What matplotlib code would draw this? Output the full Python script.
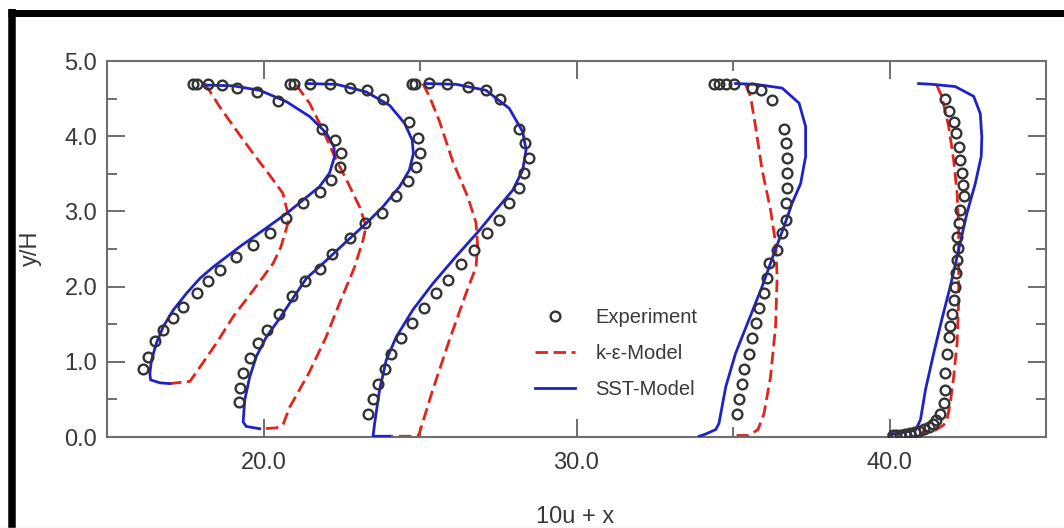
import matplotlib
matplotlib.use("Agg")
import matplotlib.pyplot as plt
from matplotlib.lines import Line2D

plt.rcParams["font.family"] = ["Liberation Sans", "DejaVu Sans"]

# ---- profile 1 ----
exp1_x = [17.75, 17.88, 18.23, 18.66, 19.16, 19.80, 20.47, 21.88, 22.27, 22.49, 22.43, 22.17, 21.79, 21.26,
          20.71, 20.20, 19.67, 19.13, 18.60, 18.23, 17.86, 17.43, 17.11, 16.80, 16.53, 16.32, 16.16]
exp1_y = [4.69, 4.69, 4.69, 4.68, 4.64, 4.59, 4.47, 4.10, 3.95, 3.77, 3.59, 3.42, 3.26, 3.11,
          2.91, 2.71, 2.55, 2.40, 2.22, 2.07, 1.91, 1.73, 1.58, 1.42, 1.27, 1.07, 0.91]
sst1_x = [18.13, 19.03, 19.88, 20.73, 21.48, 22.01, 22.25, 22.27, 22.11, 21.79, 21.26, 20.73, 19.99, 19.24,
          18.39, 17.97, 17.54, 17.12, 16.80, 16.58, 16.42, 16.37, 16.39, 16.69, 17.01]
sst1_y = [4.68, 4.67, 4.61, 4.46, 4.26, 4.04, 3.86, 3.73, 3.51, 3.33, 3.15, 2.97, 2.75, 2.53,
          2.26, 2.11, 1.91, 1.69, 1.47, 1.25, 1.02, 0.85, 0.76, 0.72, 0.71]
ke1_x = [18.13, 18.60, 19.13, 19.67, 20.20, 20.62, 20.78, 20.78, 20.55, 20.31, 19.67, 19.03, 18.50, 17.97,
         17.65, 17.01]
ke1_y = [4.70, 4.39, 4.08, 3.77, 3.48, 3.24, 2.97, 2.84, 2.52, 2.31, 1.95, 1.60, 1.25, 0.93,
         0.74, 0.71]

# ---- profile 2 ----
exp2_x = [20.86, 20.96, 21.50, 22.11, 22.75, 23.30, 23.81, 24.66, 24.93, 25.00, 24.88, 24.61, 24.24, 23.79,
          23.23, 22.75, 22.20, 21.79, 21.32, 20.92, 20.50, 20.12, 19.82, 19.56, 19.35, 19.24, 19.23]
exp2_y = [4.70, 4.70, 4.69, 4.69, 4.64, 4.61, 4.50, 4.19, 3.97, 3.77, 3.59, 3.40, 3.20, 2.98,
          2.84, 2.64, 2.44, 2.24, 2.07, 1.87, 1.64, 1.42, 1.25, 1.05, 0.85, 0.65, 0.47]
sst2_x = [21.37, 22.33, 23.28, 24.03, 24.51, 24.75, 24.79, 24.66, 24.35, 23.81, 23.28, 22.65, 22.01, 21.37,
          20.95, 20.52, 20.09, 19.77, 19.56, 19.40, 19.35, 19.45, 19.88]
sst2_y = [4.70, 4.69, 4.59, 4.41, 4.17, 3.95, 3.77, 3.55, 3.33, 3.06, 2.84, 2.60, 2.35, 2.11,
          1.85, 1.58, 1.33, 1.07, 0.80, 0.49, 0.20, 0.14, 0.11]
ke2_x = [21.05, 21.47, 21.90, 22.27, 22.65, 23.07, 23.28, 23.18, 22.91, 22.43, 22.00, 21.45, 20.84, 20.62,
         20.40, 19.88]
ke2_y = [4.68, 4.44, 4.08, 3.73, 3.42, 3.06, 2.80, 2.62, 2.26, 1.78, 1.33, 0.85, 0.40, 0.16,
         0.12, 0.11]

# ---- profile 3 ----
exp3_x = [24.75, 24.85, 25.28, 25.86, 26.53, 27.11, 27.54, 28.17, 28.37, 28.47, 28.33, 28.17, 27.85, 27.51,
          27.13, 26.74, 26.31, 25.89, 25.52, 25.14, 24.75, 24.40, 24.08, 23.87, 23.66, 23.50, 23.34]
exp3_y = [4.69, 4.69, 4.71, 4.69, 4.65, 4.61, 4.49, 4.09, 3.91, 3.71, 3.51, 3.31, 3.11, 2.89,
          2.71, 2.49, 2.30, 2.09, 1.91, 1.71, 1.51, 1.31, 1.11, 0.91, 0.71, 0.51, 0.31]
sst3_x = [25.20, 26.15, 27.11, 27.85, 28.28, 28.39, 28.28, 27.96, 27.43, 26.90, 26.15, 25.41, 24.77, 24.24,
          23.92, 23.71, 23.55, 23.50, 24.03]
sst3_y = [4.70, 4.69, 4.61, 4.37, 4.06, 3.82, 3.55, 3.28, 3.02, 2.75, 2.40, 2.04, 1.69, 1.33,
          1.02, 0.63, 0.18, 0.01, 0.01]
ke3_x = [25.09, 25.30, 25.62, 26.05, 26.52, 26.79, 26.84, 26.79, 26.47, 25.94, 25.41, 24.98, 24.93, 24.03]
ke3_y = [4.70, 4.53, 4.20, 3.66, 3.20, 2.85, 2.55, 2.26, 1.91, 1.29, 0.63, 0.05, 0.01, 0.01]

# ---- profile 4 ----
exp4_x = [34.39, 34.55, 34.77, 35.03, 35.62, 35.88, 36.26, 36.63, 36.68, 36.73, 36.73, 36.73, 36.68, 36.68,
          36.57, 36.41, 36.15, 36.10, 35.99, 35.83, 35.72, 35.62, 35.51, 35.35, 35.30, 35.19, 35.14]
exp4_y = [4.69, 4.69, 4.69, 4.69, 4.64, 4.61, 4.48, 4.10, 3.91, 3.71, 3.51, 3.31, 3.11, 2.89,
          2.71, 2.49, 2.31, 2.11, 1.91, 1.71, 1.51, 1.31, 1.11, 0.91, 0.71, 0.51, 0.31]
sst4_x = [35.08, 35.72, 36.57, 37.11, 37.32, 37.32, 37.16, 36.89, 36.63, 36.31, 35.93, 35.51, 35.08, 34.77,
          34.55, 34.45, 34.13, 33.92]
sst4_y = [4.70, 4.69, 4.64, 4.44, 4.13, 3.73, 3.37, 3.11, 2.80, 2.44, 2.00, 1.56, 1.11, 0.67,
          0.18, 0.10, 0.04, 0.01]
ke4_x = [35.40, 35.56, 35.72, 35.93, 36.20, 36.36, 36.41, 36.36, 36.20, 35.99, 35.80, 35.51, 34.95]
ke4_y = [4.69, 4.53, 4.13, 3.55, 3.02, 2.58, 2.13, 1.47, 0.80, 0.31, 0.10, 0.02, 0.02]

# ---- profile 5 ----
exp5_x = [41.78, 41.89, 42.05, 42.12, 42.21, 42.26, 42.31, 42.34, 42.37, 42.26, 42.21, 42.16, 42.19, 42.16,
          42.12, 42.10, 42.05, 41.99, 41.94, 41.89, 41.84, 41.78, 41.78, 41.73, 41.60, 41.50, 41.38, 41.25,
          41.10, 40.95, 40.80, 40.65, 40.50, 40.35, 40.22, 40.10]
exp5_y = [4.50, 4.33, 4.19, 4.04, 3.86, 3.68, 3.51, 3.35, 3.20, 3.02, 2.84, 2.66, 2.51, 2.35,
          2.18, 2.00, 1.82, 1.64, 1.47, 1.33, 1.11, 0.85, 0.63, 0.45, 0.30, 0.22, 0.17, 0.13,
          0.10, 0.08, 0.06, 0.05, 0.04, 0.03, 0.03, 0.02]
sst5_x = [40.93, 41.36, 42.10, 42.69, 42.90, 42.95, 42.93, 42.74, 42.47, 42.21, 41.94, 41.67, 41.41, 41.15,
          40.99, 40.83, 40.30, 39.98]
sst5_y = [4.70, 4.69, 4.66, 4.53, 4.30, 3.99, 3.73, 3.37, 2.97, 2.49, 2.00, 1.56, 1.11, 0.63,
          0.23, 0.09, 0.05, 0.03]
ke5_x = [41.50, 41.67, 41.89, 42.05, 42.16, 42.21, 42.21, 42.21, 42.16, 42.05, 41.94, 41.84, 41.73, 41.46,
         41.04]
ke5_y = [4.69, 4.53, 4.13, 3.68, 3.24, 2.80, 2.35, 1.82, 1.25, 0.80, 0.45, 0.23, 0.16, 0.09,
         0.07]

exp_x = [exp1_x, exp2_x, exp3_x, exp4_x, exp5_x]
exp_y = [exp1_y, exp2_y, exp3_y, exp4_y, exp5_y]
sst_x = [sst1_x, sst2_x, sst3_x, sst4_x, sst5_x]
sst_y = [sst1_y, sst2_y, sst3_y, sst4_y, sst5_y]
ke_x = [ke1_x, ke2_x, ke3_x, ke4_x, ke5_x]
ke_y = [ke1_y, ke2_y, ke3_y, ke4_y, ke5_y]

x_major = [20, 30, 40]
x_minor = [25, 35]
y_major = [0, 1, 2, 3, 4, 5]
y_minor = [0.5, 1.5, 2.5, 3.5, 4.5]

RED = "#e3241c"; BLUE = "#1f22c8"; MARK = "#333333"; SPINE = "#6e6e6e"; TXT = "#383838"

W, H = 1064, 528
fig = plt.figure(figsize=(W / 100, H / 100), dpi=100)
ax = fig.add_axes([107 / W, 1 - 437 / H, (1046 - 107) / W, (437 - 61) / H])

for i in range(5):
    lab = (i == 0)
    ke, = ax.plot(ke_x[i], ke_y[i], color=RED, lw=2.0, zorder=2,
                  label="k-\u03b5-Model" if lab else None)
    ke.set_dashes((4.5, 2.0))
    ax.plot(sst_x[i], sst_y[i], color=BLUE, lw=2.0, zorder=3,
            label="SST-Model" if lab else None)
    ax.plot(exp_x[i], exp_y[i], ls="none", marker="o", ms=7.0, mfc="none", mec=MARK, mew=1.7,
            zorder=4, label="Experiment" if lab else None)

ax.set_xlim(15, 45)
ax.set_ylim(0, 5)
ax.set_xticks(x_major)
ax.set_xticks(x_minor, minor=True)
ax.set_xticklabels([f"{v:.1f}" for v in x_major])
ax.set_yticks(y_major)
ax.set_yticks(y_minor, minor=True)
ax.set_yticklabels([f"{v:.1f}" for v in y_major])
ax.tick_params(which="both", direction="in", top=True, right=True, color=SPINE, width=1.4,
               labelsize=17, labelcolor=TXT)
ax.tick_params(which="major", length=13)
ax.tick_params(which="minor", length=7)
ax.tick_params(axis="y", pad=7)
ax.tick_params(axis="x", pad=11)
for sp in ax.spines.values():
    sp.set_color(SPINE)
    sp.set_linewidth(1.5)

h, l = ax.get_legend_handles_labels()
order = [2, 0, 1]
ax.legend([h[k] for k in order], [l[k] for k in order], loc="upper left",
          bbox_to_anchor=((535 - 107) / 939, (437 - 308) / 376), frameon=False,
          fontsize=14.5, labelcolor=TXT, handlelength=2.0, handletextpad=1.0,
          labelspacing=0.85, borderpad=0, borderaxespad=0)

fig.text(31 / W, 1 - 248 / H, "y/H", rotation=90, ha="center", va="center", fontsize=17, color=TXT)
fig.text(575 / W, 1 - 517 / H, "10u + x", ha="center", va="center", fontsize=17, color=TXT)

# thick black frame on top and left edge
fig.add_artist(Line2D([11.5 / W, 11.5 / W], [0, 1 - 9 / H], transform=fig.transFigure,
                      color="black", lw=5.4, solid_capstyle="butt"))
fig.add_artist(Line2D([8 / W, 1], [1 - 12.5 / H, 1 - 12.5 / H], transform=fig.transFigure,
                      color="black", lw=5.0, solid_capstyle="butt"))
fig.add_artist(Line2D([0, 1], [0.5 / H, 0.5 / H], transform=fig.transFigure,
                      color="#e6e6e6", lw=1.0))

fig.savefig("out.png", dpi=100, facecolor="white")
